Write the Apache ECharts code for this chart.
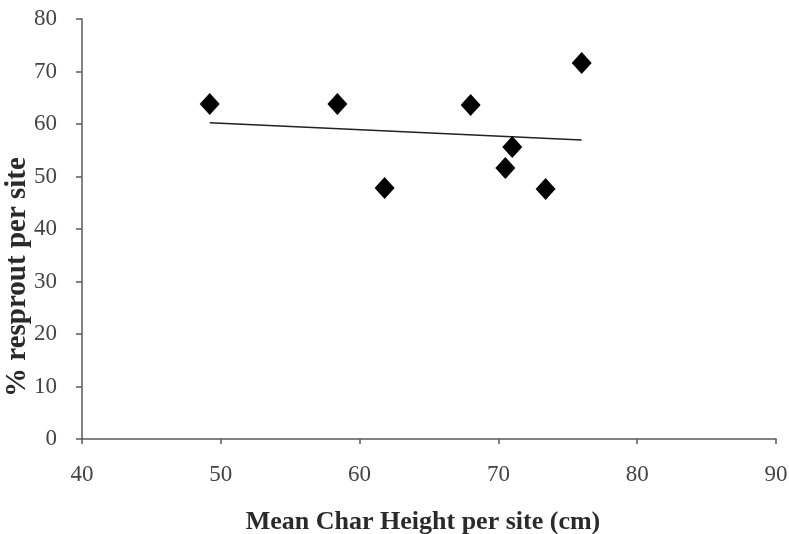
<!DOCTYPE html>
<html>
<head>
<meta charset="utf-8">
<script src="https://cdn.jsdelivr.net/npm/echarts@6/dist/echarts.min.js"></script>
<style>
  html, body { margin: 0; padding: 0; background: #ffffff; }
  #chart { width: 789px; height: 534px; }
</style>
</head>
<body>
<div id="chart"></div>
<script>
// Mean char height (cm) and resprout percentage for each site
const charHeight = [49.2, 58.4, 61.8, 68.0, 71.0, 70.5, 73.4, 76.0];
const resproutPct = [63.8, 63.8, 47.8, 63.6, 55.6, 51.6, 47.6, 71.6];

// Axis tick values
const xTicks = [40, 50, 60, 70, 80, 90];
const yTicks = [0, 10, 20, 30, 40, 50, 60, 70, 80];

// Least-squares trend line across the observed range
function linearFit(xs, ys) {
  const n = xs.length;
  const mx = xs.reduce((a, b) => a + b, 0) / n;
  const my = ys.reduce((a, b) => a + b, 0) / n;
  let sxy = 0, sxx = 0;
  for (let i = 0; i < n; i++) {
    sxy += (xs[i] - mx) * (ys[i] - my);
    sxx += (xs[i] - mx) * (xs[i] - mx);
  }
  const slope = sxy / sxx;
  return x => my + slope * (x - mx);
}
const fit = linearFit(charHeight, resproutPct);
const xMin = Math.min(...charHeight), xMax = Math.max(...charHeight);
const trend = [[xMin, fit(xMin)], [xMax, fit(xMax)]];

const points = charHeight.map((x, i) => [x, resproutPct[i]]);

const font = '"Liberation Serif", "DejaVu Serif", serif';
const axisColor = '#5a5a5a';

const chart = echarts.init(document.getElementById('chart'));
chart.setOption({
  backgroundColor: '#ffffff',
  animation: false,
  grid: { left: 82, right: 13, top: 19, bottom: 95, containLabel: false, outerBoundsMode: 'none' },
  xAxis: {
    type: 'value',
    min: xTicks[0],
    max: xTicks[xTicks.length - 1],
    interval: xTicks[1] - xTicks[0],
    name: 'Mean Char Height per site (cm)',
    nameLocation: 'middle',
    nameGap: 70,
    nameMoveOverlap: false,
    nameTextStyle: { fontFamily: font, fontSize: 26, fontWeight: 'bold', color: '#2a2a2a', padding: [0, 12, 0, 0] },
    axisLine: { show: true, lineStyle: { color: axisColor, width: 1.5 } },
    axisTick: { show: true, length: 5, lineStyle: { color: axisColor, width: 1.5 } },
    splitLine: { show: false },
    axisLabel: { fontFamily: font, fontSize: 23, color: '#444444', margin: 24 }
  },
  yAxis: {
    type: 'value',
    min: yTicks[0],
    max: yTicks[yTicks.length - 1],
    interval: yTicks[1] - yTicks[0],
    name: '% resprout per site',
    nameLocation: 'middle',
    nameGap: 50,
    nameMoveOverlap: false,
    nameTextStyle: { fontFamily: font, fontSize: 29, fontWeight: 'bold', color: '#2a2a2a', padding: [0, 96, 0, 0] },
    axisLine: { show: true, lineStyle: { color: axisColor, width: 1.5 } },
    axisTick: { show: true, length: 6, lineStyle: { color: axisColor, width: 1.5 } },
    splitLine: { show: false },
    axisLabel: { fontFamily: font, fontSize: 23, color: '#444444', margin: 25 }
  },
  series: [
    {
      type: 'line',
      data: trend,
      showSymbol: false,
      symbol: 'none',
      lineStyle: { color: '#222222', width: 1.5 },
      z: 2
    },
    {
      type: 'scatter',
      data: points,
      symbol: 'diamond',
      symbolSize: [20, 22],
      itemStyle: { color: '#000000', opacity: 1 },
      z: 3
    }
  ]
});
</script>
</body>
</html>
